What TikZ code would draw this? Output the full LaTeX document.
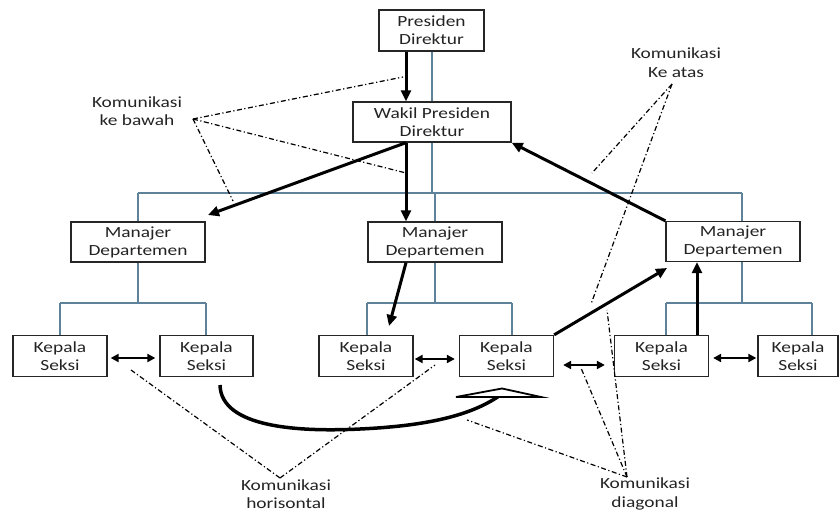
\documentclass[tikz,border=0pt]{standalone}
\usepackage{fontspec}
\setmainfont{Carlito}[FakeStretch=1.25]
\usetikzlibrary{arrows.meta}
\definecolor{orgline}{RGB}{95,130,155}
\definecolor{txt}{RGB}{35,35,35}
\begin{document}
\begin{tikzpicture}[x=1pt,y=-1pt,
  box/.style={draw=black!85, line width=1.3pt, align=center, inner sep=0pt, text=txt,
              font=\fontsize{15.5}{18}\selectfont},
  top/.style={box, minimum width=105pt, minimum height=41pt},
  wide/.style={box, minimum width=158pt, minimum height=40pt},
  mgr/.style={box, minimum width=134pt, minimum height=40pt},
  ks/.style={box, minimum width=94pt, minimum height=41pt},
  lbl/.style={align=center, inner sep=0pt, text=txt, font=\fontsize{15.5}{18.5}\selectfont},
  org/.style={draw=orgline, line width=1.4pt},
  thickarrow/.style={draw=black, line width=3pt, -{Triangle[length=11pt,width=10pt]}},
  dbl/.style={draw=black, line width=2.2pt, {Triangle[length=8pt,width=8pt]}-{Triangle[length=8pt,width=8pt]}},
  dd/.style={draw=black, line width=1.2pt, dash pattern=on 5pt off 2.5pt on 1.2pt off 2.5pt},
  curvearr/.style={draw=black, line width=3.5pt}
]
\useasboundingbox (0,0) rectangle (840,513);

% boxes
\node[top]  (pd)  at (431.5,30.5) {Presiden\\Direktur};
\node[wide] (wpd) at (432,122) {Wakil Presiden\\Direktur};
\node[mgr]  (m1)  at (138,242) {Manajer\\Departemen};
\node[mgr]  (m2)  at (435,242) {Manajer\\Departemen};
\node[mgr]  (m3)  at (733,241.5) {Manajer\\Departemen};
\node[ks] (k1) at (60,356) {Kepala\\Seksi};
\node[ks, minimum width=93pt] (k2) at (206.5,356) {Kepala\\Seksi};
\node[ks] (k3) at (366,356) {Kepala\\Seksi};
\node[ks] (k4) at (506.5,356) {Kepala\\Seksi};
\node[ks] (k5) at (661.5,356) {Kepala\\Seksi};
\node[ks, minimum width=80pt] (k6) at (798,356) {Kepala\\Seksi};

% org chart lines
\coordinate (oc) at (432,193);
\coordinate (jl) at (138,193);
\coordinate (jr) at (742,193);
\draw[org] (pd.south -| oc) -- (wpd.north -| oc);
\draw[org] (wpd.south -| oc) -- (oc);
\draw[org] (jl) -- (jr);
\draw[org] (jl) -- (m1.north -| jl);
\draw[org] (m2.north |- oc) -- (m2.north);
\draw[org] (jr) -- (m3.north -| jr);

\coordinate (b1) at (138,303);
\coordinate (h1a) at (60,303);
\coordinate (h1b) at (206,303);
\draw[org] (m1.south) -- (b1);
\draw[org] (k1.north |- h1a) -- (h1b);
\draw[org] (k1.north |- h1a) -- (k1.north);
\draw[org] (h1b) -- (k2.north -| h1b);

\coordinate (b2) at (435,303);
\coordinate (h2a) at (367,303);
\coordinate (h2b) at (512,303);
\draw[org] (m2.south) -- (b2);
\draw[org] (h2a) -- (h2b);
\draw[org] (h2a) -- (k3.north -| h2a);
\draw[org] (h2b) -- (k4.north -| h2b);

\coordinate (b3) at (742,303);
\coordinate (h3a) at (666,303);
\coordinate (h3b) at (812,303);
\draw[org] (m3.south -| b3) -- (b3);
\draw[org] (h3a) -- (h3b);
\draw[org] (h3a) -- (k5.north -| h3a);
\draw[org] (h3b) -- (k6.north -| h3b);

% thick arrows
\coordinate (ax) at (406,0);
\coordinate (m1tip) at (208,215);
\coordinate (k3tip) at (389,326);
\coordinate (m3tip) at (667,268);
\coordinate (ux) at (697,0);
\draw[thickarrow] (pd.south -| ax) -- (wpd.north -| ax);
\draw[thickarrow] (wpd.south -| ax) -- (m2.north -| ax);
\draw[thickarrow] (wpd.south -| ax) -- (m1tip);
\draw[thickarrow] (m2.south -| ax) -- (k3tip);
\draw[thickarrow] (m3.north west) -- (wpd.south east);
\draw[thickarrow] (k4.north east) -- (m3tip);
\draw[thickarrow] (k5.north -| ux) -- (m3.south -| ux);

% double arrows
\draw[dbl, shorten <=3pt, shorten >=4pt] ([yshift=-2pt]k1.east) -- ([yshift=-2pt]k2.west);
\draw[dbl, shorten <=1pt, shorten >=4pt] ([yshift=-3pt]k3.east) -- ([yshift=-3pt]k4.west);
\draw[dbl, shorten <=9pt, shorten >=9pt] ([yshift=-9pt]k4.east) -- ([yshift=-9pt]k5.west);
\draw[dbl, shorten <=4pt, shorten >=1pt] ([yshift=-2pt]k5.east) -- ([yshift=-2pt]k6.west);

% curved arrow
\coordinate (cs) at (220,385);
\coordinate (ce) at (499,396);
\draw[curvearr] (cs) .. controls (221,428) and (300,432) .. (360,429)
                     .. controls (425,426) and (470,416) .. (ce);
\filldraw[draw=black, fill=white, line width=1.8pt, line join=miter]
  (456,397) -- (502,388.5) -- (541,397) -- cycle;

% labels
\node[lbl] (lbawah) at (137,111) {Komunikasi\\ke bawah};
\node[lbl] (latas) at (676,62.5) {Komunikasi\\Ke atas};
\node[lbl] (lhor) at (286,494) {Komunikasi\\horisontal};
\node[lbl] (ldiag) at (645,494) {Komunikasi\\diagonal};

% dash-dot pointer lines
\coordinate (ob) at (193,119);
\coordinate (tb1) at (403,77);
\coordinate (tb2) at (406,173);
\coordinate (tb3) at (233,201);
\draw[dd] (ob) -- (tb1);
\draw[dd] (ob) -- (tb2);
\draw[dd] (ob) -- (tb3);

\coordinate (oa) at (672,84);
\coordinate (ta1) at (592,173);
\coordinate (ta2) at (591,304);
\draw[dd] (oa) -- (ta1);
\draw[dd] (oa) -- (ta2);

\coordinate (oh) at (280,478);
\coordinate (th1) at (131,370);
\coordinate (th2) at (435,365);
\draw[dd] (oh) -- (th1);
\draw[dd] (oh) -- (th2);

\coordinate (od) at (627,477);
\coordinate (td1) at (607,310);
\coordinate (td2) at (581,368);
\coordinate (td3) at (467,420);
\draw[dd] (od) -- (td1);
\draw[dd] (od) -- (td2);
\draw[dd] (od) -- (td3);
\end{tikzpicture}
\end{document}
